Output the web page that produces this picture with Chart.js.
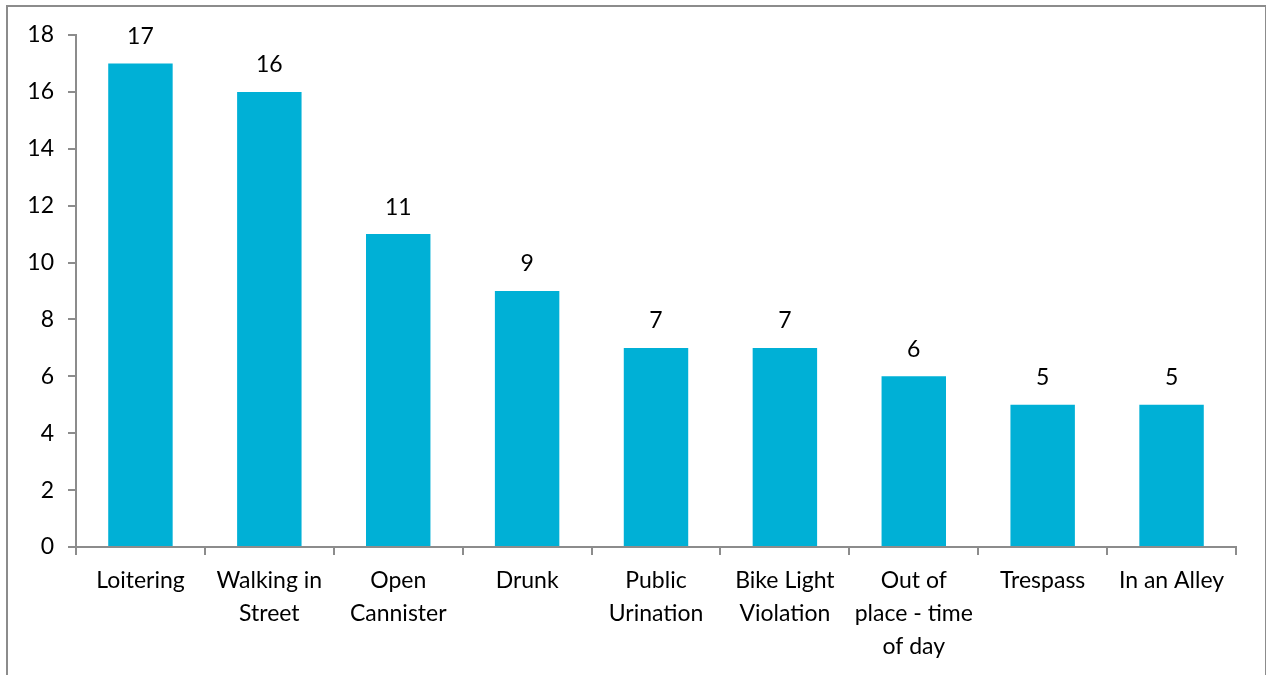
<!DOCTYPE html>
<html>
<head>
<meta charset="utf-8">
<script src="https://cdn.jsdelivr.net/npm/chart.js@4/dist/chart.umd.min.js"></script>
<style>
  body { margin: 0; background: #fff; }
  #frame { position: absolute; left: 6px; top: 5px; width: 1257px; height: 700px; border: 2px solid #8c8c8c; }
  #wrap { position: absolute; left: 0; top: 0; width: 1266px; height: 675px; }
</style>
</head>
<body>
<div id="frame"></div>
<div id="wrap"><canvas id="chart" width="1266" height="675"></canvas></div>
<script>
const categories = [
  "Loitering",
  ["Walking in", "Street"],
  ["Open", "Cannister"],
  "Drunk",
  ["Public", "Urination"],
  ["Bike Light", "Violation"],
  ["Out of", "place - time", "of day"],
  "Trespass",
  "In an Alley"
];
const counts = [17, 16, 11, 9, 7, 7, 6, 5, 5];
const yTicks = [0, 2, 4, 6, 8, 10, 12, 14, 16, 18];

const barColor = "#00B0D6";
const axisColor = "#8c8c8c";
const font = { family: "Lato, 'Open Sans', sans-serif", size: 23 };

// value labels above bars
const valueLabels = {
  id: "valueLabels",
  afterDatasetsDraw(chart) {
    const ctx = chart.ctx;
    const meta = chart.getDatasetMeta(0);
    ctx.save();
    ctx.font = font.size + "px " + font.family;
    ctx.fillStyle = "#000";
    ctx.textAlign = "center";
    ctx.textBaseline = "middle";
    meta.data.forEach((bar, i) => {
      ctx.fillText(counts[i], bar.x, bar.y - 27);
    });
    ctx.restore();
  }
};

new Chart(document.getElementById("chart").getContext("2d"), {
  type: "bar",
  data: {
    labels: categories,
    datasets: [{
      data: counts,
      backgroundColor: barColor,
      borderWidth: 0,
      barPercentage: 0.5,
      categoryPercentage: 1
    }]
  },
  options: {
    responsive: false,
    animation: false,
    layout: { padding: { left: 0, top: 35, right: 30, bottom: 0 } },
    plugins: { legend: { display: false }, tooltip: { enabled: false } },
    scales: {
      y: {
        min: 0,
        max: 18,
        afterFit: (s) => { s.width = 76; },
        afterBuildTicks: (s) => { s.ticks = yTicks.map(v => ({ value: v })); },
        border: { display: true, color: axisColor, width: 2 },
        grid: { drawOnChartArea: false, drawTicks: true, tickLength: 8, color: axisColor, lineWidth: 2 },
        ticks: { color: "#000", font: font, padding: 14 }
      },
      x: {
        afterFit: (s) => { s.height = 128; },
        border: { display: true, color: axisColor, width: 2 },
        grid: { offset: true, drawOnChartArea: false, drawTicks: true, tickLength: 8, color: axisColor, lineWidth: 2 },
        ticks: { color: "#000", font: Object.assign({ lineHeight: 1.43 }, font), padding: 9, maxRotation: 0, autoSkip: false }
      }
    }
  },
  plugins: [valueLabels]
});
</script>
</body>
</html>
